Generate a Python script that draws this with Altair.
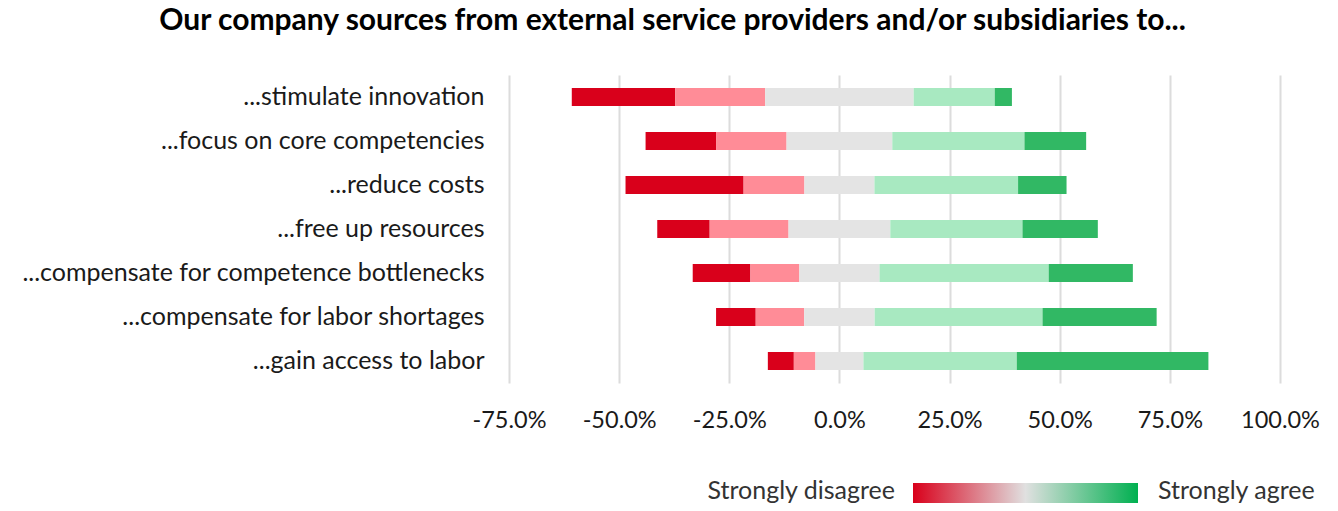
import altair as alt
import pandas as pd

categories = [
    "...stimulate innovation",
    "...focus on core competencies",
    "...reduce costs",
    "...free up resources",
    "...compensate for competence bottlenecks",
    "...compensate for labor shortages",
    "...gain access to labor",
]
responses = ["Strongly disagree", "Disagree", "Neutral", "Agree", "Strongly agree"]
strongly_disagree = [23.5, 16.0, 26.8, 11.9, 13.1, 9.0, 5.9]
disagree = [20.4, 16.0, 13.8, 17.9, 11.1, 11.0, 4.9]
neutral = [33.7, 24.0, 15.9, 23.1, 18.2, 16.0, 10.9]
agree = [18.4, 30.0, 32.6, 30.0, 38.4, 38.1, 34.8]
strongly_agree = [3.9, 14.0, 11.0, 17.1, 19.1, 25.9, 43.5]
colors = ["#d9001b", "#ff8c97", "#e4e4e4", "#a8e9c1", "#31b864"]
tick_values = [-0.75, -0.5, -0.25, 0.0, 0.25, 0.5, 0.75, 1.0]
legend_labels = ["Strongly disagree", "Strongly agree"]
title = ["Our company sources from external service providers and/or subsidiaries to..."]

FONT = "Lato"
TXT = "#1a1a1a"

rows = []
for i, cat in enumerate(categories):
    vals = [strongly_disagree[i], disagree[i], neutral[i], agree[i], strongly_agree[i]]
    pos = -(vals[0] + vals[1] + vals[2] / 2.0)
    for r, v in zip(responses, vals):
        rows.append({"category": cat, "response": r,
                     "start": pos / 100.0, "end": (pos + v) / 100.0})
        pos += v
df = pd.DataFrame(rows)

bars = alt.Chart(df).mark_bar().encode(
    y=alt.Y("category:N", sort=categories, title=None,
            scale=alt.Scale(paddingInner=0.59, paddingOuter=0.295),
            axis=alt.Axis(labelFontSize=25, labelFont=FONT, labelColor=TXT,
                          labelPadding=25, ticks=False, domain=False, grid=False,
                          labelLimit=700)),
    x=alt.X("start:Q", title=None,
            scale=alt.Scale(domain=[-0.75, 1.0], nice=False, zero=False),
            axis=alt.Axis(values=tick_values,
                          labelExpr="replace(format(datum.value, '.1%'), '\u2212', '-')",
                          labelFontSize=23.5, labelOverlap=False, labelFlush=False,
                          labelFont=FONT, labelColor=TXT, labelPadding=25,
                          ticks=False, domain=False, grid=True,
                          gridColor="#dcdcdc", gridWidth=2)),
    x2="end:Q",
    color=alt.Color("response:N", scale=alt.Scale(domain=responses, range=colors),
                    legend=None),
)

grad = alt.Chart(pd.DataFrame({"a": [0]})).mark_rect(
    color=alt.LinearGradient(
        gradient="linear",
        stops=[alt.GradientStop(color="#d9001b", offset=0),
               alt.GradientStop(color="#e0e0e0", offset=0.5),
               alt.GradientStop(color="#00b050", offset=1)],
        x1=0, x2=1, y1=0, y2=0)
).encode(x=alt.value(404), x2=alt.value(629), y=alt.value(408), y2=alt.value(428))

leg_left = alt.Chart(pd.DataFrame({"t": [legend_labels[0]]})).mark_text(
    align="right", baseline="middle", fontSize=25, font=FONT, color="#333333"
).encode(text="t:N", x=alt.value(386), y=alt.value(416))

leg_right = alt.Chart(pd.DataFrame({"t": [legend_labels[1]]})).mark_text(
    align="left", baseline="middle", fontSize=25, font=FONT, color="#333333"
).encode(text="t:N", x=alt.value(649), y=alt.value(416))

title_txt = alt.Chart(pd.DataFrame({"t": title})).mark_text(
    align="center", baseline="alphabetic", fontSize=30, font=FONT,
    fontWeight="bold", color="#000000"
).encode(text="t:N", x=alt.value(163.5), y=alt.value(-45))

chart = alt.layer(bars, grad, leg_left, leg_right, title_txt).properties(
    width=771, height=308,
    padding={"left": 501, "top": 67, "right": 50, "bottom": 120},
    autosize=alt.AutoSizeParams(type="none"),
).configure_view(stroke=None)

chart.save("out.html", embed_options={"renderer": "svg", "actions": False})
